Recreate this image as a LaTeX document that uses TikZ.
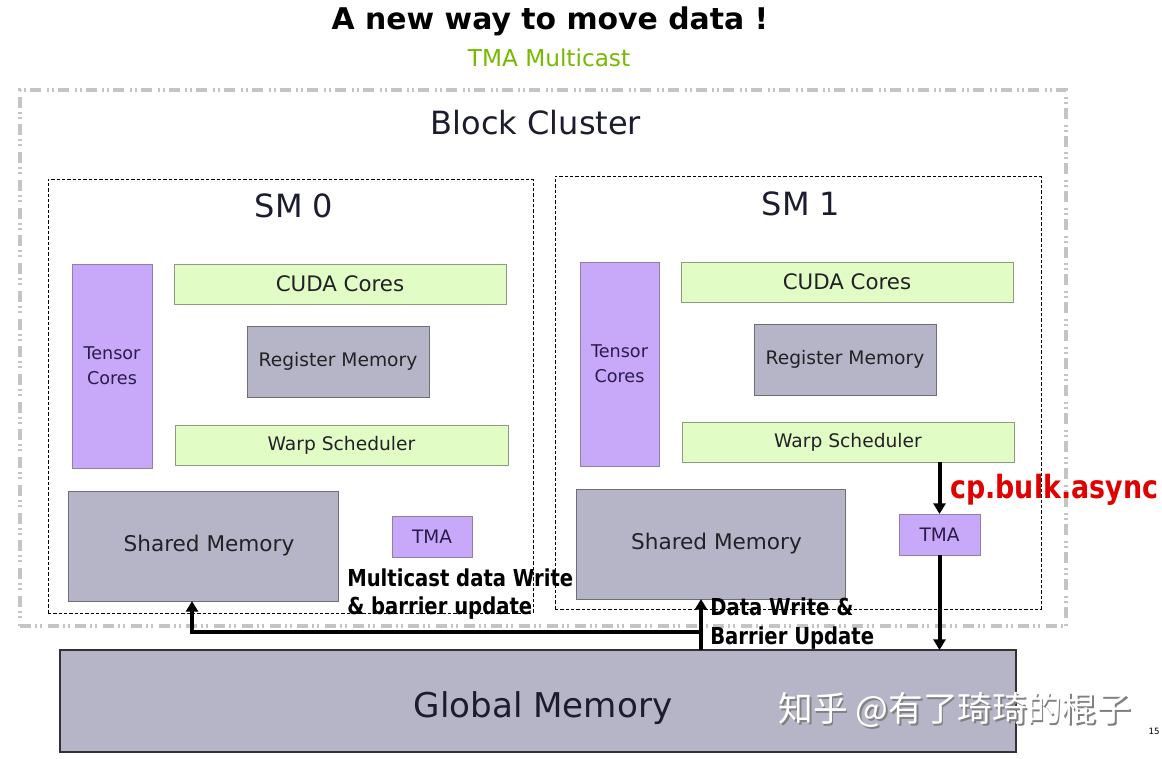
\documentclass[tikz,border=0pt]{standalone}
\usepackage{fontspec}
\setmainfont{DejaVu Sans}
\newfontfamily\cjkfont{Noto Sans CJK SC}
\newfontfamily\lblfont{DejaVu Sans}[FakeStretch=0.84]
\usetikzlibrary{arrows.meta}
\definecolor{purp}{HTML}{C7A8F9}
\definecolor{purpd}{HTML}{8F80AA}
\definecolor{purtxt}{HTML}{2A1C4A}
\definecolor{grn}{HTML}{E2FCC6}
\definecolor{grnd}{HTML}{8C9C80}
\definecolor{gry}{HTML}{B5B5C7}
\definecolor{gryd}{HTML}{6E6E7A}
\definecolor{txt}{HTML}{222226}
\definecolor{navy}{HTML}{1C1C30}
\definecolor{clgray}{HTML}{C4C4C4}
\definecolor{nvgreen}{HTML}{76B900}
\definecolor{redlbl}{HTML}{E00000}
\newcommand\fs[2]{\fontsize{#1}{#2}\selectfont}
\newcommand\bx[7]{\node[#6, minimum width={(#4-#2)*0.75pt}, minimum height={(#5-#3)*0.75pt}] (#1) at ({(#2+#4)/2},{(#3+#5)/2}) {#7};}
\tikzset{
  box/.style={draw, line width=0.6pt, inner sep=0pt, outer sep=0pt, text=txt},
  purpbox/.style={box, fill=purp, draw=purpd, text=purtxt},
  greenbox/.style={box, fill=grn, draw=grnd},
  graybox/.style={box, fill=gry, draw=gryd},
  smbox/.style={draw, dash pattern=on 2.5pt off 1.5pt, line width=0.6pt, inner sep=0pt, outer sep=0pt},
  clbox/.style={draw=clgray, line width=2.8pt, inner sep=0pt, outer sep=0pt,
     dash pattern=on 8.25pt off 3pt on 1.5pt off 2.25pt on 1.5pt off 4.3pt},
  arr/.style={line width=3pt, -{Triangle[length=8pt,width=9pt]}},
  lbl/.style={font=\lblfont\bfseries\fs{17.5}{21.5}, align=left, inner sep=0pt, anchor=west, text=black},
}
\begin{document}
\begin{tikzpicture}[x=0.75pt,y=-0.75pt]
\useasboundingbox (0,0) rectangle (1162,759);
\fill[white] (0,0) rectangle (1162,759);

% titles
\node[font=\bfseries\fs{22.4}{27}, anchor=base, inner sep=0pt] (title) at (550,30) {A new way to move data !};
\node[font=\fs{17.4}{21}, anchor=base, inner sep=0pt, text=nvgreen] (sub) at (549,66.5) {TMA Multicast};

% block cluster
\bx{cluster}{20}{90}{1066}{626}{clbox}{}
\node[font=\fs{24}{29}, anchor=base, inner sep=0pt, text=navy] (bct) at (536,134.5) {Block Cluster};

% SMs
\bx{sm0}{48}{179}{533}{613}{smbox}{}
\bx{sm1}{555}{176}{1041}{609}{smbox}{}
\node[font=\fs{24}{29}, anchor=base, inner sep=0pt, text=navy] (sm0t) at (294,218) {SM 0};
\node[font=\fs{24}{29}, anchor=base, inner sep=0pt, text=navy] (sm1t) at (801,215) {SM 1};

% SM0 contents
\bx{tc0}{72}{264}{152}{468}{purpbox, font=\fs{13.2}{18.75}, align=center}{Tensor\\Cores}
\bx{cc0}{174}{264}{506}{304}{greenbox, font=\fs{16}{19}}{CUDA Cores}
\bx{rm0}{247}{326}{429}{397}{graybox, font=\fs{14}{17}}{Register Memory}
\bx{ws0}{175}{425}{508}{465}{greenbox, font=\fs{14}{17}}{Warp Scheduler}
\bx{sh0}{68}{491}{338}{601}{graybox, font=\fs{16.2}{19}}{\hspace*{9pt}Shared Memory}
\bx{tma0}{392}{516}{472}{557}{purpbox, font=\fs{13.9}{17}}{TMA}

% SM1 contents
\bx{tc1}{580}{262}{659}{466}{purpbox, font=\fs{13.2}{18.75}, align=center}{Tensor\\Cores}
\bx{cc1}{681}{262}{1013}{302}{greenbox, font=\fs{16}{19}}{CUDA Cores}
\bx{rm1}{754}{324}{936}{395}{graybox, font=\fs{14}{17}}{Register Memory}
\bx{ws1}{682}{422}{1014}{462}{greenbox, font=\fs{14}{17}}{Warp Scheduler}
\bx{sh1}{576}{489}{845}{599}{graybox, font=\fs{16.2}{19}}{\hspace*{9pt}Shared Memory}
\bx{tma1}{899}{514}{980}{555}{purpbox, font=\fs{13.9}{17}}{TMA}

% global memory
\bx{gm}{60}{650}{1016}{752}{graybox, draw=black!80, line width=1pt}{}
\node[font=\fs{25.6}{30}, anchor=base, inner sep=0pt, text=navy] (gmt) at (543,717.5) {Global Memory};

% arrows
\draw[arr] (ws1.south -| tma1.north) -- (tma1.north);
\draw[arr] (tma1.south) -- (tma1.south |- gm.north);
\coordinate (jn) at (701,632);
\coordinate (j0) at (192,632);
\draw[arr] (jn |- gm.north) -- (jn |- sh1.south);
\draw[arr, line join=miter] (jn) -- (j0) -- (j0 |- sh0.south);

% labels
\node[font=\lblfont\bfseries\fs{24}{28}, text=redlbl, anchor=base west, inner sep=0pt] (cpb) at (950,498) {cp.bulk.async};
\node[lbl] (mcl) at (347,594) {Multicast data Write\\\& barrier update};
\node[lbl] (dwl) at (710,623.5) {Data Write \&\\Barrier Update};

% watermark and page number
\node[font=\cjkfont\fs{26}{30}, text=black!50, inner sep=0pt] (wms) at (956.5,711.5) {知乎 @有了琦琦的棍子};
\node[font=\cjkfont\fs{26}{30}, text=white, inner sep=0pt] (wm) at (955,710) {知乎 @有了琦琦的棍子};
\node[font=\fs{6.5}{8}, inner sep=0pt] (pg) at (1154,731) {15};
\end{tikzpicture}
\end{document}
